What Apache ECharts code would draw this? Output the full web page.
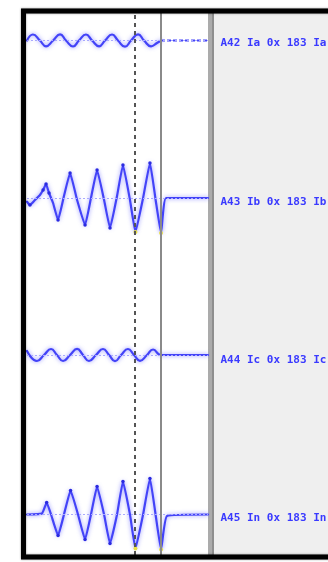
<!DOCTYPE html>
<html>
<head>
<meta charset="utf-8">
<script src="https://cdn.jsdelivr.net/npm/echarts@6/dist/echarts.min.js"></script>
<style>
  html, body { margin: 0; padding: 0; background: #ffffff; }
  #chart { width: 328px; height: 562px; }
</style>
</head>
<body>
<div id="chart"></div>
<script>
// Four analog current channels of a fault record, time in ms, current in A.
const timeMax = 116;

const iaTime = [0, 3.8, 8.3, 12.2, 16.7, 21.2, 25.0, 29.5, 33.3, 37.8, 41.7, 46.2, 50.0, 54.5, 58.3, 62.8, 66.7, 71.2, 75.0, 79.5, 83.3, 85.9, 116];
const iaAmps = [0, 60, 0, -58, 0, 62, 0, -60, 0, 60, 0, -58, 0, 60, 0, -62, 0, 62, 0, -58, -25, 0, 0];

const ibTime = [0, 1.9, 5.1, 8.3, 10.3, 12.2, 14.1, 16.7, 19.9, 23.7, 27.6, 32.1, 37.2, 41.0, 44.9, 49.4, 53.2, 57.7, 61.5, 66.0, 69.5, 74.4, 78.8, 82.4, 85.9, 89.1, 116];
const ibAmps = [-32, -65, -15, 35, 85, 145, 55, -45, -215, 25, 255, -15, -265, 5, 285, -15, -295, 25, 335, -15, -335, 5, 355, -10, -345, 5, 5];

const icTime = [0, 6.4, 10.9, 15.4, 19.2, 23.1, 27.6, 32.1, 35.9, 39.7, 44.2, 48.7, 52.6, 56.4, 60.3, 64.7, 68.6, 72.4, 76.9, 80.8, 85.9, 116];
const icAmps = [40, -60, 0, 60, 0, -60, 0, 62, 0, -60, 0, 60, 0, -62, 0, 60, 0, -58, 0, 55, 0, 0];

const inTime = [0, 9.6, 12.6, 15.4, 19.9, 23.7, 27.9, 32.7, 37.2, 41.0, 44.9, 49.4, 53.2, 57.7, 61.5, 66.0, 69.5, 74.4, 78.8, 82.4, 85.9, 89.7, 116];
const inAmps = [0, 10, 120, 0, -210, 0, 240, 0, -250, 0, 280, 0, -290, 0, 330, 0, -340, 0, 360, 0, -350, -15, 0];

const channelLabels = ['A42 Ia 0x 183 Ia', 'A43 Ib 0x 183 Ib', 'A44 Ic 0x 183 Ic', 'A45 In 0x 183 In'];
const cursorTimes = [68.9, 85.9];

// layout
const plotLeft = 27, plotRight = 208;
const centers = [40.5, 198.5, 355, 514.5];
const labelY = [43.5, 202, 360, 518];
const half = 40;          // px half-height of each channel strip
const ampRange = 400;     // A at strip edge

const blue = '#4343f8';
const channels = [
  { t: iaTime, v: iaAmps, marks: false, dashedTail: true },
  { t: ibTime, v: ibAmps, marks: true },
  { t: icTime, v: icAmps, marks: false },
  { t: inTime, v: inAmps, marks: true }
];

const grids = [], xAxes = [], yAxes = [], series = [];

channels.forEach((ch, i) => {
  grids.push({ left: plotLeft, width: plotRight - plotLeft, top: centers[i] - half, height: half * 2 });
  xAxes.push({ type: 'value', gridIndex: i, min: 0, max: timeMax, show: false });
  yAxes.push({ type: 'value', gridIndex: i, min: -ampRange, max: ampRange, show: false });

  const pts = ch.t.map((t, k) => {
    const item = { value: [t, ch.v[k]] };
    if (ch.marks) {
      if (Math.abs(ch.v[k]) < 50) item.symbol = 'none';
      if (cursorTimes.some(c => Math.abs(c - t) < 1) && Math.abs(ch.v[k]) > 100) {
        item.itemStyle = { color: '#e8e040' };
        item.symbolSize = 4;
      }
    }
    return item;
  });

  const lineStyle = { color: blue, width: 2.2, join: 'round', cap: 'round', shadowBlur: 4, shadowColor: 'rgba(100,100,255,0.7)' };
  let mainPts = pts, tailPts = null;
  if (ch.dashedTail) {
    const cut = ch.t.indexOf(cursorTimes[1]);
    mainPts = pts.slice(0, cut + 1);
    tailPts = pts.slice(cut);
  }
  series.push({
    type: 'line', xAxisIndex: i, yAxisIndex: i, data: mainPts,
    smooth: ch.marks ? 0.12 : 0.5,
    symbol: ch.marks ? 'circle' : 'none', symbolSize: 3.5, showAllSymbol: true,
    itemStyle: { color: '#2a2ae0' },
    lineStyle: lineStyle, z: 3, silent: true,
    markLine: {
      silent: true, symbol: ['none', 'none'], label: { show: false },
      lineStyle: { type: [2, 2], color: '#a9a9ff', width: 1 },
      data: [{ yAxis: 0 }], animation: false
    }
  });
  if (tailPts) {
    series.push({
      type: 'line', xAxisIndex: i, yAxisIndex: i, data: tailPts,
      symbol: 'none', silent: true, z: 3,
      lineStyle: { color: blue, width: 2, type: [4, 2] }
    });
  }
});

// full-height strip for the two time cursors
grids.push({ left: plotLeft, width: plotRight - plotLeft, top: 13, bottom: 7 });
xAxes.push({ type: 'value', gridIndex: 4, min: 0, max: timeMax, show: false });
yAxes.push({ type: 'value', gridIndex: 4, min: 0, max: 1, show: false });
series.push({
  type: 'line', xAxisIndex: 4, yAxisIndex: 4, data: [[0, 0]],
  symbol: 'none', lineStyle: { opacity: 0 }, silent: true, z: 4,
  markLine: {
    silent: true, symbol: ['none', 'none'], label: { show: false }, animation: false,
    data: [
      { xAxis: cursorTimes[0], lineStyle: { type: [4, 4], color: '#555555', width: 2 } },
      { xAxis: cursorTimes[1], lineStyle: { type: 'solid', color: '#8a8a8a', width: 2 } }
    ]
  }
});

const graphic = [
  { type: 'rect', z: -10, shape: { x: 214, y: 13, width: 120, height: 542 }, style: { fill: '#efefef' } },
  { type: 'rect', z: -9, shape: { x: 208, y: 13, width: 6, height: 542 }, style: { fill: '#ababab' } },
  { type: 'rect', z: -9, shape: { x: 212, y: 13, width: 2, height: 542 }, style: { fill: '#8e8e8e' } },
  { type: 'rect', z: 100, shape: { x: 23.5, y: 11, width: 420, height: 546 },
    style: { fill: null, stroke: '#000000', lineWidth: 5, shadowBlur: 2, shadowColor: 'rgba(0,0,0,0.5)' } }
];
channelLabels.forEach((txt, i) => {
  graphic.push({
    type: 'text', z: 50, x: 220.5, y: labelY[i],
    style: { text: txt, fill: '#3a3aff', font: 'bold 11px "DejaVu Sans Mono", monospace', verticalAlign: 'middle', align: 'left' }
  });
});

const chart = echarts.init(document.getElementById('chart'), null, { renderer: 'canvas' });
chart.setOption({
  animation: false,
  backgroundColor: '#ffffff',
  grid: grids,
  xAxis: xAxes,
  yAxis: yAxes,
  series: series,
  graphic: graphic
});
</script>
</body>
</html>
